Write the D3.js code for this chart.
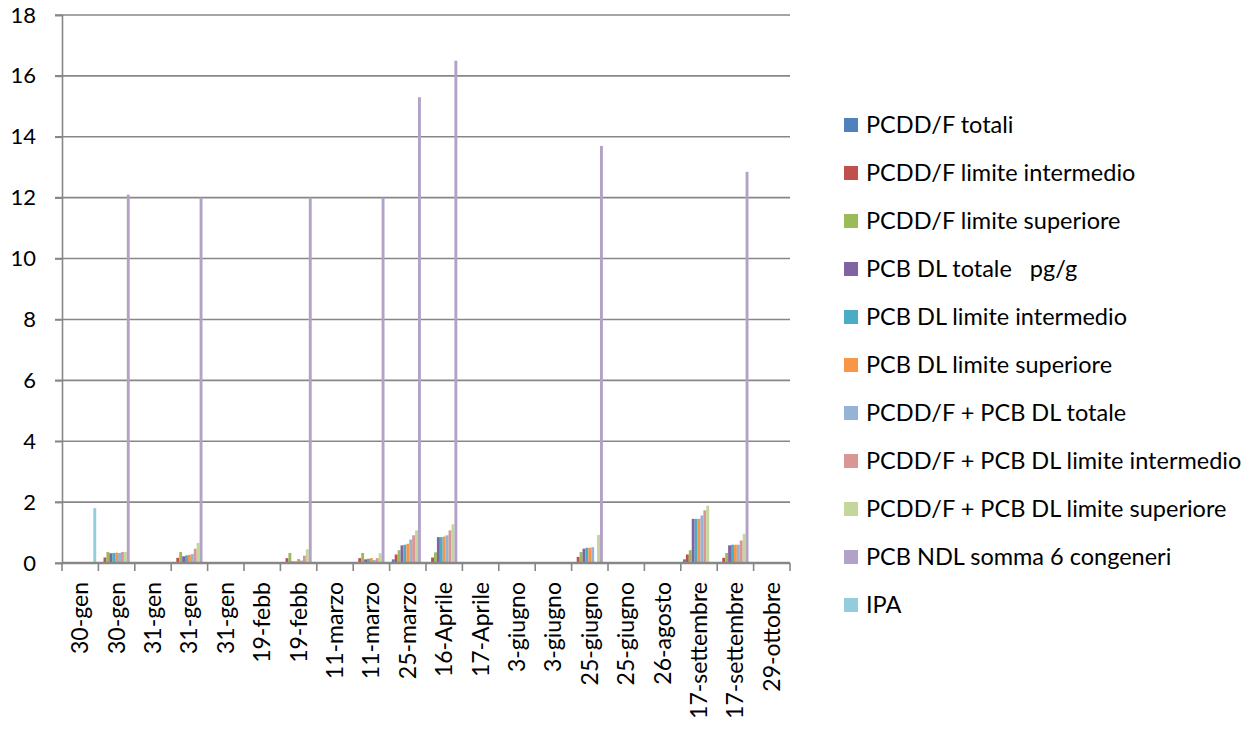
<!DOCTYPE html>
<html>
<head>
<meta charset="utf-8">
<script src="https://cdn.jsdelivr.net/npm/d3@7"></script>
<style>
  body { margin: 0; background: #fff; }
  svg { display: block; }
</style>
</head>
<body>
<script>
"use strict";

// CATEGORIES (sampling dates)
const categories = ["30-gen", "30-gen", "31-gen", "31-gen", "31-gen", "19-febb", "19-febb",
  "11-marzo", "11-marzo", "25-marzo", "16-Aprile", "17-Aprile", "3-giugno", "3-giugno",
  "25-giugno", "25-giugno", "26-agosto", "17-settembre", "17-settembre", "29-ottobre"];

const seriesNames = ["PCDD/F totali", "PCDD/F limite intermedio", "PCDD/F limite superiore",
  "PCB DL totale   pg/g", "PCB DL limite intermedio", "PCB DL limite superiore",
  "PCDD/F + PCB DL totale", "PCDD/F + PCB DL limite intermedio",
  "PCDD/F + PCB DL limite superiore", "PCB NDL somma 6 congeneri", "IPA"];

const seriesColors = ["#4F81BD", "#C0504D", "#9BBB59", "#8064A2", "#4BACC6", "#F79646",
  "#95B3D7", "#D99694", "#C3D69B", "#B3A2C7", "#93CDDD"];

// VALUES, one array per series (same order as categories)
const pcddTot    = [0, 0.02, 0, 0.02, 0, 0, 0.01, 0, 0.01, 0.12, 0.02, 0, 0, 0, 0.02, 0, 0, 0.12, 0.02, 0];
const pcddInt    = [0, 0.18, 0, 0.17, 0, 0, 0.16, 0, 0.16, 0.28, 0.18, 0, 0, 0, 0.2, 0, 0, 0.28, 0.17, 0];
const pcddSup    = [0, 0.36, 0, 0.36, 0, 0, 0.33, 0, 0.33, 0.42, 0.35, 0, 0, 0, 0.36, 0, 0, 0.42, 0.33, 0];
const pcbDlTot   = [0, 0.32, 0, 0.22, 0, 0, 0.05, 0, 0.12, 0.58, 0.85, 0, 0, 0, 0.47, 0, 0, 1.45, 0.58, 0];
const pcbDlInt   = [0, 0.33, 0, 0.25, 0, 0, 0.05, 0, 0.14, 0.6, 0.85, 0, 0, 0, 0.5, 0, 0, 1.45, 0.6, 0];
const pcbDlSup   = [0, 0.34, 0, 0.27, 0, 0, 0.13, 0, 0.16, 0.63, 0.87, 0, 0, 0, 0.5, 0, 0, 1.45, 0.6, 0];
const sumTot     = [0, 0.33, 0, 0.29, 0, 0, 0.08, 0, 0.1, 0.77, 0.91, 0, 0, 0, 0.52, 0, 0, 1.56, 0.6, 0];
const sumInt     = [0, 0.36, 0, 0.47, 0, 0, 0.24, 0, 0.16, 0.91, 1.07, 0, 0, 0, 0, 0, 0, 1.73, 0.74, 0];
const sumSup     = [0, 0.36, 0, 0.66, 0, 0, 0.45, 0, 0.32, 1.07, 1.27, 0, 0, 0, 0.92, 0, 0, 1.88, 0.96, 0];
const pcbNdl     = [0, 12.1, 0, 12.0, 0, 0, 12.0, 0, 12.0, 15.3, 16.5, 0, 0, 0, 13.7, 0, 0, 0, 12.85, 0];
const ipa        = [1.8, 0, 0, 0, 0, 0, 0, 0, 0, 0, 0, 0, 0, 0, 0, 0, 0, 0, 0, 0];

const seriesValues = [pcddTot, pcddInt, pcddSup, pcbDlTot, pcbDlInt, pcbDlSup,
  sumTot, sumInt, sumSup, pcbNdl, ipa];

const yTicks = [0, 2, 4, 6, 8, 10, 12, 14, 16, 18];

// LAYOUT
const width = 1257, height = 731;
const margin = { top: 15, left: 62, right: 467, bottom: 168 };
const plotRight = width - margin.right;
const plotBottom = height - margin.bottom;
const fontFam = "Lato, 'Open Sans', sans-serif";

const svg = d3.select("body").append("svg")
  .attr("width", width).attr("height", height)
  .style("font-family", fontFam);

const x = d3.scaleBand()
  .domain(d3.range(categories.length))
  .range([margin.left, plotRight]);

const gap = x.bandwidth() / (seriesNames.length + 1.5) * 0.75;
const xs = d3.scaleBand()
  .domain(d3.range(seriesNames.length))
  .range([gap, x.bandwidth() - gap]);

const y = d3.scaleLinear().domain([0, 18]).range([plotBottom, margin.top]);

const gridColor = "#878787";

// GRIDLINES
svg.append("g")
  .selectAll("line")
  .data(yTicks)
  .join("line")
  .attr("x1", margin.left - 7)
  .attr("x2", plotRight)
  .attr("y1", (d) => y(d))
  .attr("y2", (d) => y(d))
  .attr("stroke", gridColor)
  .attr("stroke-width", 1.6);

// BARS
const rows = [];
seriesValues.forEach((vals, s) => {
  vals.forEach((v, c) => rows.push({ s, c, v }));
});

svg.append("g")
  .selectAll("rect")
  .data(rows.filter((d) => d.v > 0))
  .join("rect")
  .attr("x", (d) => x(d.c) + xs(d.s))
  .attr("width", xs.bandwidth())
  .attr("y", (d) => y(d.v))
  .attr("height", (d) => y(0) - y(d.v))
  .attr("fill", (d) => seriesColors[d.s]);

// Y AXIS
const yAxis = svg.append("g")
  .attr("transform", `translate(${margin.left},0)`)
  .call(d3.axisLeft(y).tickValues(yTicks).tickSize(7).tickPadding(19));
yAxis.select(".domain").attr("stroke", gridColor).attr("stroke-width", 1.6);
yAxis.selectAll(".tick line").attr("stroke", gridColor).attr("stroke-width", 1.6);
yAxis.selectAll(".tick text")
  .attr("font-size", 22)
  .attr("font-family", fontFam)
  .attr("fill", "#000");

// X AXIS (baseline + tick marks between categories)
svg.append("line")
  .attr("x1", margin.left).attr("x2", plotRight)
  .attr("y1", y(0)).attr("y2", y(0))
  .attr("stroke", gridColor).attr("stroke-width", 2.5);

svg.append("g")
  .selectAll("line")
  .data(d3.range(categories.length + 1))
  .join("line")
  .attr("x1", (i) => margin.left + i * x.step())
  .attr("x2", (i) => margin.left + i * x.step())
  .attr("y1", y(0))
  .attr("y2", y(0) + 8)
  .attr("stroke", gridColor)
  .attr("stroke-width", 1.6);

svg.append("g")
  .selectAll("text")
  .data(categories)
  .join("text")
  .attr("transform", (d, i) =>
    `translate(${x(i) + x.bandwidth() / 2},${y(0) + 19}) rotate(-90)`)
  .attr("text-anchor", "end")
  .attr("dy", "0.35em")
  .attr("font-size", 23)
  .attr("fill", "#000")
  .text((d) => d);

// LEGEND
const legend = svg.append("g")
  .attr("transform", "translate(844,125)")
  .selectAll("g")
  .data(seriesNames)
  .join("g")
  .attr("transform", (d, i) => `translate(0,${i * 48})`);

legend.append("rect")
  .attr("x", 0).attr("y", -7)
  .attr("width", 14).attr("height", 14)
  .attr("fill", (d, i) => seriesColors[i]);

legend.append("text")
  .attr("x", 22)
  .attr("dy", "0.35em")
  .attr("font-size", 23.5)
  .attr("fill", "#000")
  .style("white-space", "pre")
  .text((d) => d);
</script>
</body>
</html>
